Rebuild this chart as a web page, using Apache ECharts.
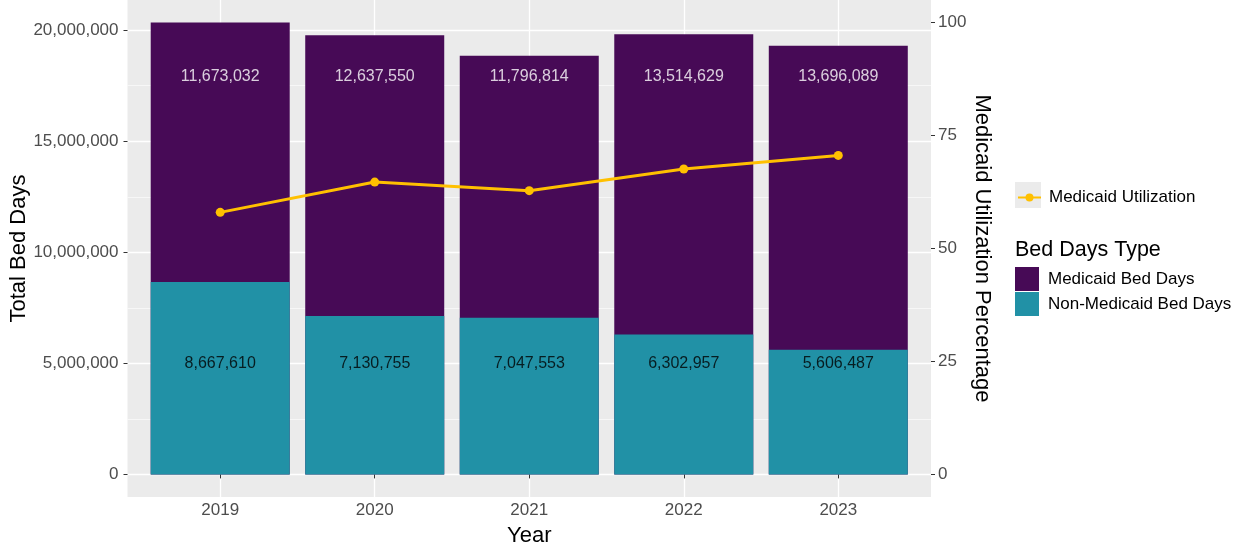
<!DOCTYPE html>
<html>
<head>
<meta charset="utf-8">
<script src="https://cdn.jsdelivr.net/npm/echarts@6/dist/echarts.min.js"></script>
<style>
  html, body { margin: 0; padding: 0; background: #ffffff; }
  #chart { width: 1244px; height: 546px; }
</style>
</head>
<body>
<div id="chart"></div>
<script>
// ---- data ----
const years = ['2019', '2020', '2021', '2022', '2023'];
const medicaidBedDays = [11673032, 12637550, 11796814, 13514629, 13696089];
const nonMedicaidBedDays = [8667610, 7130755, 7047553, 6302957, 5606487];
const medicaidUtilization = [58.0, 64.7, 62.8, 67.6, 70.6];
const leftTicks = [0, 5000000, 10000000, 15000000, 20000000];
const leftMinorTicks = [2500000, 7500000, 12500000, 17500000];
const rightTicks = [0, 25, 50, 75, 100];

// ---- derived scales (ggplot-like 5% expansion) ----
const totals = years.map((_, i) => medicaidBedDays[i] + nonMedicaidBedDays[i]);
const maxTotal = Math.max(...totals);
const leftMin = -0.05 * maxTotal, leftMax = 1.05 * maxTotal;
const rightMin = -5, rightMax = 105;
const xs = years.map((_, i) => i + 1);

const fmt = v => Math.round(v).toLocaleString('en-US');
const FONT = 'Liberation Sans, Arial, sans-serif';
const PURPLE = '#470A56';
const TEAL = '#2191A6';
const GOLD = '#FFC000';

const option = {
  animation: false,
  textStyle: { fontFamily: FONT },
  grid: {
    left: 127.5, right: 313, top: 0, bottom: 49,
    show: true, backgroundColor: '#EBEBEB', borderWidth: 0,
    containLabel: false, outerBoundsMode: 'none'
  },
  xAxis: {
    type: 'value', min: 0.4, max: 5.6,
    name: 'Year', nameLocation: 'middle', nameGap: 28, nameMoveOverlap: false,
    nameTextStyle: { fontSize: 22, color: '#000', fontFamily: FONT },
    axisLine: { show: false },
    axisTick: { show: true, customValues: xs, length: 4, lineStyle: { color: '#333' } },
    axisLabel: { customValues: xs, formatter: v => years[Math.round(v) - 1] || '',
                 fontSize: 17, color: '#4D4D4D', margin: 5, fontFamily: FONT },
    splitLine: { show: true, lineStyle: { color: '#FFFFFF', width: 1.3 } }
  },
  yAxis: [
    {
      type: 'value', min: leftMin, max: leftMax,
      name: 'Total Bed Days', nameLocation: 'middle', nameGap: 98, nameRotate: 90,
      nameMoveOverlap: false,
      nameTextStyle: { fontSize: 22, color: '#000', fontFamily: FONT },
      axisLine: { show: false },
      axisTick: { show: true, customValues: leftTicks, length: 4, lineStyle: { color: '#333' } },
      axisLabel: { customValues: leftTicks, formatter: v => fmt(v),
                   fontSize: 17, color: '#4D4D4D', margin: 9, fontFamily: FONT },
      splitLine: { show: true, lineStyle: { color: '#FFFFFF', width: 1.3 } }
    },
    {
      type: 'value', min: rightMin, max: rightMax, position: 'right',
      name: 'Medicaid Utilization Percentage', nameLocation: 'middle', nameGap: 40, nameRotate: -90,
      nameMoveOverlap: false,
      nameTextStyle: { fontSize: 22, color: '#000', fontFamily: FONT },
      axisLine: { show: false },
      axisTick: { show: true, customValues: rightTicks, length: 4, lineStyle: { color: '#333' } },
      axisLabel: { customValues: rightTicks, formatter: v => String(v),
                   fontSize: 17, color: '#4D4D4D', margin: 7, fontFamily: FONT },
      splitLine: { show: false }
    },
    {
      type: 'value', min: leftMin, max: leftMax, position: 'left', show: true,
      axisLine: { show: false },
      axisTick: { show: false, customValues: leftMinorTicks },
      axisLabel: { show: false, customValues: leftMinorTicks },
      splitLine: { show: true, lineStyle: { color: '#FFFFFF', width: 0.6 } }
    }
  ],
  legend: [
    {
      data: [{ name: 'Medicaid Utilization' }],
      left: 1017, top: 189, padding: 0,
      itemWidth: 23, itemHeight: 10,
      textStyle: { fontSize: 17, color: '#000', fontFamily: FONT, padding: [0, 0, 0, 3] },
      selectedMode: false
    },
    {
      data: [{ name: 'Medicaid Bed Days' }, { name: 'Non-Medicaid Bed Days' }],
      orient: 'vertical', left: 1015, top: 267, padding: 0,
      itemWidth: 24, itemHeight: 24, itemGap: 1, icon: 'rect',
      textStyle: { fontSize: 17, color: '#000', fontFamily: FONT, padding: [0, 0, 0, 4] },
      selectedMode: false
    }
  ],
  graphic: [
    { type: 'rect', left: 1015, top: 182, shape: { width: 26, height: 26 },
      style: { fill: '#EBEBEB' }, z: -1 },
    { type: 'text', left: 1015, top: 239,
      style: { text: 'Bed Days Type', font: '21.5px ' + FONT, fill: '#000' } }
  ],
  series: [
    {
      name: 'Medicaid Bed Days', type: 'bar', barWidth: 139, barGap: '-100%', z: 2,
      itemStyle: { color: PURPLE },
      data: xs.map((x, i) => [x, nonMedicaidBedDays[i] + medicaidBedDays[i]])
    },
    {
      name: 'Non-Medicaid Bed Days', type: 'bar', barWidth: 139, barGap: '-100%', z: 3,
      itemStyle: { color: TEAL },
      data: xs.map((x, i) => [x, nonMedicaidBedDays[i]])
    },
    {
      name: 'labelsMed', type: 'scatter', z: 4, symbolSize: 1, silent: true,
      itemStyle: { color: 'rgba(0,0,0,0)' },
      label: { show: true, position: 'inside', color: '#FFFFFF', fontSize: 16, fontFamily: FONT,
               formatter: p => fmt(p.value[2]) },
      data: xs.map((x, i) => [x, 17900000, medicaidBedDays[i]])
    },
    {
      name: 'labelsNon', type: 'scatter', z: 4, symbolSize: 1, silent: true,
      itemStyle: { color: 'rgba(0,0,0,0)' },
      label: { show: true, position: 'inside', color: '#000000', fontSize: 16, fontFamily: FONT,
               formatter: p => fmt(p.value[2]) },
      data: xs.map((x, i) => [x, 5000000, nonMedicaidBedDays[i]])
    },
    {
      name: 'Medicaid Utilization', type: 'line', yAxisIndex: 1, z: 5,
      symbol: 'circle', symbolSize: 9,
      lineStyle: { color: GOLD, width: 3 },
      itemStyle: { color: GOLD },
      data: xs.map((x, i) => [x, medicaidUtilization[i]])
    }
  ]
};

const chart = echarts.init(document.getElementById('chart'), null, { renderer: 'canvas' });
chart.setOption(option);
</script>
</body>
</html>
